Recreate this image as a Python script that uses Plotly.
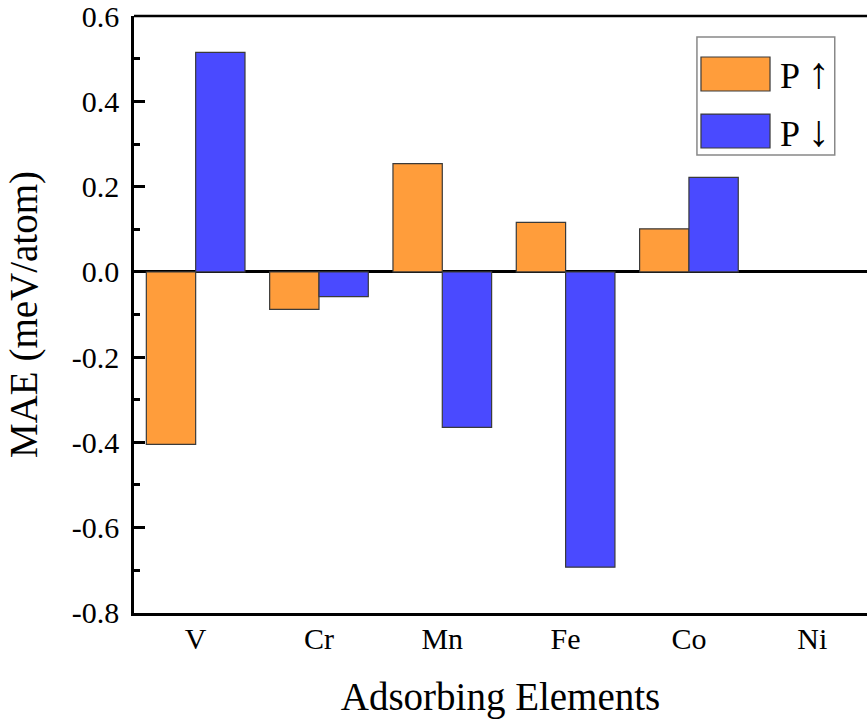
import plotly.graph_objects as go

categories = ["V", "Cr", "Mn", "Fe", "Co", "Ni"]
p_up = [-0.405, -0.088, 0.254, 0.116, 0.101, None]
p_down = [0.515, -0.058, -0.365, -0.693, 0.222, None]
y_tickvals = [-0.8, -0.6, -0.4, -0.2, 0.0, 0.2, 0.4, 0.6]
y_ticktext = ["-0.8", "-0.6", "-0.4", "-0.2", "0.0", "0.2", "0.4", "0.6"]
series_names = ["P ↑", "P ↓"]
series_colors = ["#FF9D3B", "#4A4AFF"]
EDGE = "#3a3a3a"

FONT = "Liberation Serif"

fig = go.Figure()
for vals, name, col in zip([p_up, p_down], series_names, series_colors):
    fig.add_trace(go.Bar(
        x=categories, y=vals, name=name, showlegend=False,
        marker=dict(color=col, line=dict(color=EDGE, width=1.2)),
    ))

# legend drawn as a box with large swatches (paper coordinates)
shapes = [
    dict(type="line", xref="paper", yref="paper", x0=0, x1=1, y0=1, y1=1,
         line=dict(color="black", width=2.5)),
    dict(type="rect", xref="paper", yref="paper", x0=0.768, x1=0.956, y0=0.767, y1=0.965,
         fillcolor="white", line=dict(color="#888888", width=1.5), layer="above"),
]
annotations = []
swatch_y = [(0.8744, 0.9313), (0.7789, 0.8358)]
for (y0, y1), name, col in zip(swatch_y, series_names, series_colors):
    shapes.append(dict(type="rect", xref="paper", yref="paper", x0=0.7735, x1=0.8677,
                       y0=y0, y1=y1, fillcolor=col, line=dict(color=EDGE, width=1.2),
                       layer="above"))
    annotations.append(dict(xref="paper", yref="paper", x=0.8786, y=(y0 + y1) / 2,
                            xanchor="left", yanchor="middle", showarrow=False,
                            text=name.replace("↑", "<span style='font-size:44px'>↑</span>")
                                     .replace("↓", "<span style='font-size:44px'>↓</span>"),
                            font=dict(size=36, family=FONT, color="black")))

fig.update_layout(
    width=867, height=722,
    margin=dict(l=134, r=0, t=16, b=109),
    paper_bgcolor="white", plot_bgcolor="white",
    barmode="group", bargap=0.2, bargroupgap=0.0,
    font=dict(family=FONT, color="black"),
    showlegend=False,
    xaxis=dict(
        range=[-0.5, 5.444],
        showline=True, linecolor="black", linewidth=2.5,
        ticks="", showgrid=False, zeroline=False,
        tickfont=dict(size=30, family=FONT, color="black"),
        ticklabelstandoff=-3,
        title=dict(text="Adsorbing Elements", font=dict(size=39, family=FONT), standoff=29),
    ),
    yaxis=dict(
        range=[-0.8005, 0.6005],
        tickmode="array", tickvals=y_tickvals, ticktext=y_ticktext,
        ticklabeloverflow="allow",
        showline=True, linecolor="black", linewidth=2.5,
        ticks="inside", ticklen=11, tickwidth=2.5, tickcolor="black",
        minor=dict(tickmode="linear", tick0=-0.8, dtick=0.1, ticks="inside",
                   ticklen=6, tickwidth=2.5, tickcolor="black", showgrid=False),
        showgrid=False,
        zeroline=True, zerolinecolor="black", zerolinewidth=2.5,
        tickfont=dict(size=30, family=FONT, color="black"),
        ticklabelstandoff=6,
        title=dict(text="MAE (meV/atom)", font=dict(size=39, family=FONT), standoff=23),
    ),
    shapes=shapes,
    annotations=annotations,
)

fig.write_html("out.html")
